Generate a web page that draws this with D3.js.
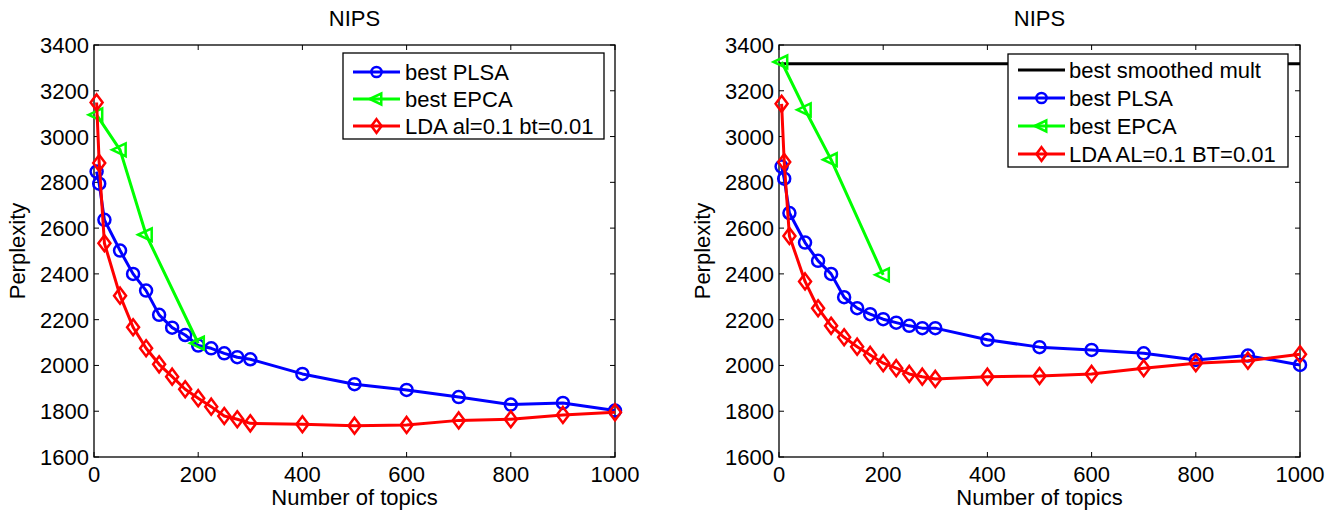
<!DOCTYPE html>
<html>
<head>
<meta charset="utf-8">
<script src="https://cdn.jsdelivr.net/npm/d3@7"></script>
<style>
  html, body { margin: 0; padding: 0; background: #fff; }
  svg text { font-family: "Liberation Sans", Arial, Helvetica, sans-serif; fill: #000; }
</style>
</head>
<body>
<svg id="chart" width="1328" height="512"></svg>
<script>
// Number of topics for each measured run
const topics = [5, 10, 20, 50, 75, 100, 125, 150, 175, 200, 225, 250, 275, 300, 400, 500, 600, 700, 800, 900, 1000];
const topicsEPCA = [5, 50, 100, 200];

// Left panel perplexities
const leftPLSA = [2847, 2794, 2636, 2502, 2400, 2327, 2221, 2165, 2133, 2087, 2075, 2053, 2036, 2027, 1963, 1918, 1893, 1862, 1829, 1836, 1803];
const leftEPCA = [3095, 2942, 2571, 2097];
const leftLDA  = [3149, 2884, 2534, 2305, 2167, 2075, 2005, 1951, 1896, 1857, 1820, 1779, 1765, 1747, 1743, 1737, 1740, 1760, 1765, 1784, 1795];

// Right panel perplexities
const smoothedMult = 3318;
const rightPLSA = [2869, 2816, 2666, 2537, 2457, 2400, 2298, 2250, 2224, 2202, 2187, 2173, 2163, 2163, 2112, 2080, 2068, 2053, 2024, 2043, 2002];
const rightEPCA = [3326, 3117, 2899, 2396];
const rightLDA  = [3143, 2889, 2566, 2367, 2250, 2173, 2123, 2082, 2046, 2010, 1988, 1963, 1951, 1941, 1951, 1954, 1963, 1988, 2010, 2021, 2049];

// Axis ticks
const xTicks = [0, 200, 400, 600, 800, 1000];
const yTicks = [1600, 1800, 2000, 2200, 2400, 2600, 2800, 3000, 3200, 3400];

const leftLegend  = ["best PLSA", "best EPCA", "LDA al=0.1 bt=0.01"];
const rightLegend = ["best smoothed mult", "best PLSA", "best EPCA", "LDA AL=0.1 BT=0.01"];

const BLUE = "#0000ff", GREEN = "#00ff00", RED = "#ff0000";
const FS = 22;
const svg = d3.select("#chart");

function marker(g, type, x, y, color, scale = 1) {
  if (type === "circle") {
    g.append("circle").attr("cx", x).attr("cy", y).attr("r", 6 * scale)
      .attr("fill", "none").attr("stroke", color).attr("stroke-width", 2.5);
  } else if (type === "diamond") {
    const s = 8 * scale;
    g.append("path").attr("d", `M${x},${y - s}L${x + s * 0.75},${y}L${x},${y + s}L${x - s * 0.75},${y}Z`)
      .attr("fill", "none").attr("stroke", color).attr("stroke-width", 2.5);
  } else if (type === "triangle") {
    const s = 8 * scale;
    g.append("path").attr("d", `M${x - s},${y}L${x + s * 0.7},${y - s * 0.8}L${x + s * 0.7},${y + s * 0.8}Z`)
      .attr("fill", "none").attr("stroke", color).attr("stroke-width", 2.5);
  }
}

function panel(opts) {
  const { left, right, top, bottom } = opts;
  const x = d3.scaleLinear().domain([0, 1000]).range([left, right]);
  const y = d3.scaleLinear().domain([1600, 3400]).range([bottom, top]);
  const g = svg.append("g");

  // Axes frame
  g.append("rect").attr("x", left).attr("y", top).attr("width", right - left).attr("height", bottom - top)
    .attr("fill", "#fff").attr("stroke", "#000").attr("stroke-width", 1.3);

  const tl = 5;
  // inward ticks on all four sides
  xTicks.forEach(t => {
    const px = x(t);
    g.append("line").attr("x1", px).attr("x2", px).attr("y1", bottom).attr("y2", bottom - tl).attr("stroke", "#000");
    g.append("line").attr("x1", px).attr("x2", px).attr("y1", top).attr("y2", top + tl).attr("stroke", "#000");
    g.append("text").attr("x", px).attr("y", bottom + 25).attr("text-anchor", "middle")
      .attr("font-size", FS).text(t);
  });
  yTicks.forEach(t => {
    const py = y(t);
    g.append("line").attr("x1", left).attr("x2", left + tl).attr("y1", py).attr("y2", py).attr("stroke", "#000");
    g.append("line").attr("x1", right).attr("x2", right - tl).attr("y1", py).attr("y2", py).attr("stroke", "#000");
    g.append("text").attr("x", left - 5).attr("y", py + 8).attr("text-anchor", "end")
      .attr("font-size", FS).text(t);
  });

  // Titles
  const cx = (left + right) / 2;
  g.append("text").attr("x", cx).attr("y", 26).attr("text-anchor", "middle").attr("font-size", FS).text("NIPS");
  g.append("text").attr("x", cx).attr("y", bottom + 48).attr("text-anchor", "middle").attr("font-size", FS).text("Number of topics");
  g.append("text").attr("transform", `translate(${left - 69},${(top + bottom) / 2}) rotate(-90)`)
    .attr("text-anchor", "middle").attr("font-size", FS).text("Perplexity");

  const line = d3.line().x(d => x(d[0])).y(d => y(d[1]));

  if (opts.flat !== undefined) {
    g.append("line").attr("x1", x(0)).attr("x2", x(1000)).attr("y1", y(opts.flat)).attr("y2", y(opts.flat))
      .attr("stroke", "#000").attr("stroke-width", 3);
  }

  opts.series.forEach(s => {
    const pts = s.xs.map((t, i) => [t, s.ys[i]]);
    g.append("path").attr("d", line(pts)).attr("fill", "none").attr("stroke", s.color)
      .attr("stroke-width", 3).attr("stroke-linejoin", "round");
    const mg = g.append("g");
    pts.forEach(p => marker(mg, s.marker, x(p[0]), y(p[1]), s.color));
  });

  // Legend
  const L = opts.legend;
  const lg = g.append("g");
  lg.append("rect").attr("x", L.x).attr("y", L.y).attr("width", L.w).attr("height", L.h)
    .attr("fill", "#fff").attr("stroke", "#000").attr("stroke-width", 1.3);
  L.items.forEach((it, i) => {
    const ry = L.y + L.first + i * L.step;
    lg.append("line").attr("x1", L.x + L.lx).attr("x2", L.x + L.lx + 47).attr("y1", ry).attr("y2", ry)
      .attr("stroke", it.color).attr("stroke-width", 3);
    if (it.marker) marker(lg, it.marker, L.x + L.lx + 23.5, ry, it.color, 0.85);
    lg.append("text").attr("x", L.x + L.tx).attr("y", ry + 8).attr("font-size", FS).text(it.label);
  });
}

panel({
  left: 94, right: 615, top: 45, bottom: 457,
  series: [
    { xs: topics, ys: leftPLSA, color: BLUE, marker: "circle" },
    { xs: topicsEPCA, ys: leftEPCA, color: GREEN, marker: "triangle" },
    { xs: topics, ys: leftLDA, color: RED, marker: "diamond" }
  ],
  legend: {
    x: 343, y: 53, w: 261, h: 86, first: 19, step: 27, lx: 10, tx: 62,
    items: [
      { label: leftLegend[0], color: BLUE, marker: "circle" },
      { label: leftLegend[1], color: GREEN, marker: "triangle" },
      { label: leftLegend[2], color: RED, marker: "diamond" }
    ]
  }
});

panel({
  left: 779, right: 1300, top: 45, bottom: 457,
  flat: smoothedMult,
  series: [
    { xs: topicsEPCA, ys: rightEPCA, color: GREEN, marker: "triangle" },
    { xs: topics, ys: rightPLSA, color: BLUE, marker: "circle" },
    { xs: topics, ys: rightLDA, color: RED, marker: "diamond" }
  ],
  legend: {
    x: 1008, y: 54, w: 280, h: 113, first: 16, step: 28, lx: 10, tx: 61,
    items: [
      { label: rightLegend[0], color: "#000", marker: null },
      { label: rightLegend[1], color: BLUE, marker: "circle" },
      { label: rightLegend[2], color: GREEN, marker: "triangle" },
      { label: rightLegend[3], color: RED, marker: "diamond" }
    ]
  }
});
</script>
</body>
</html>
